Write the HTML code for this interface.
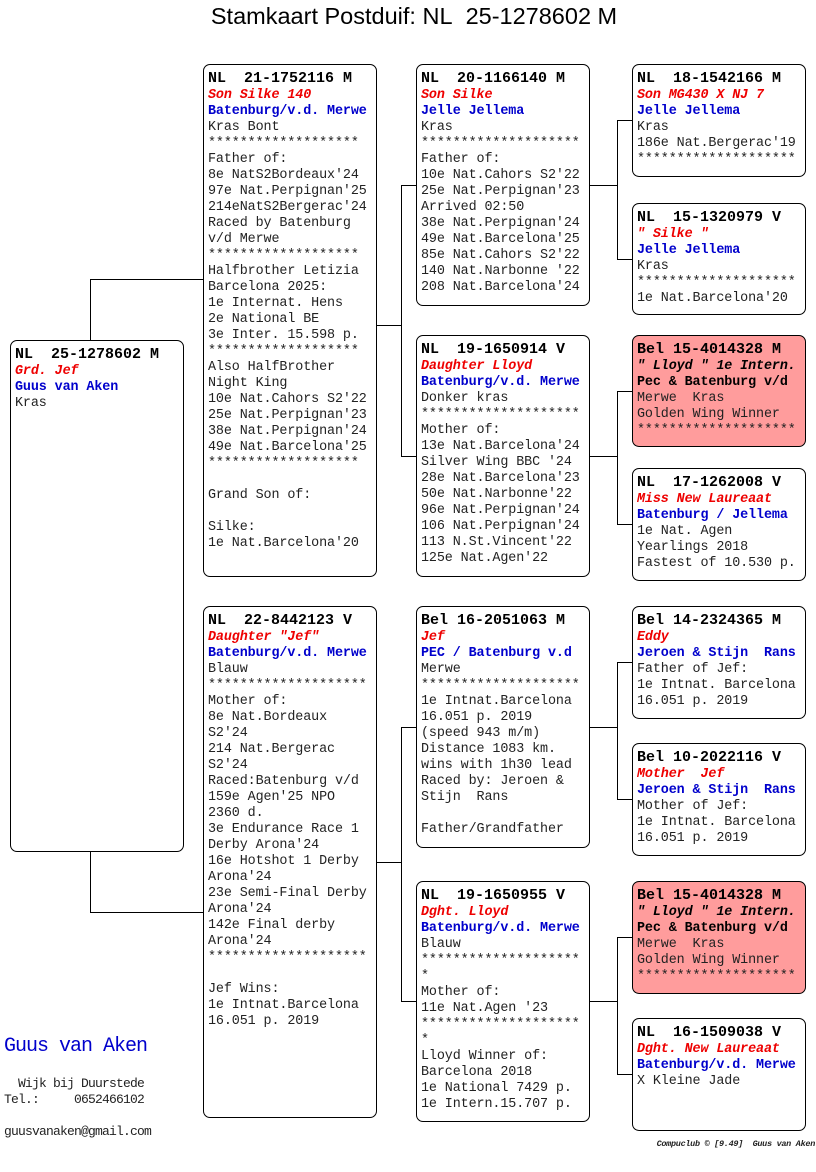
<!DOCTYPE html>
<html><head><meta charset="utf-8"><style>
body{margin:0;width:816px;height:1172px;background:#fff;position:relative;font-family:"Liberation Mono",monospace;overflow:hidden}
.b{position:absolute;border:1px solid #000;border-radius:7px;background:#fff;box-sizing:border-box;padding:6px 0 0 4px;font-size:13.4px;line-height:16px;white-space:pre;color:#222;letter-spacing:-0.1px}
.red{background:#ff9c9c}
.h{font-weight:bold;color:#000;font-size:15px;letter-spacing:0}
.r{color:#e00;font-style:italic;font-weight:bold}
.u{color:#00c;font-weight:bold}
.k{color:#000;font-weight:bold}
.ki{color:#000;font-weight:bold;font-style:italic}
.l{position:absolute;background:#000}
</style></head><body>
<div style="position:absolute;left:0;width:828px;top:3px;text-align:center;font-family:'Liberation Sans',sans-serif;font-size:23.5px">Stamkaart Postduif: NL&nbsp; 25-1278602 M</div>

<div class="l" style="left:90px;top:279px;width:1px;height:61px"></div>
<div class="l" style="left:90px;top:279px;width:113px;height:1px"></div>
<div class="l" style="left:90px;top:851px;width:1px;height:61px"></div>
<div class="l" style="left:90px;top:912px;width:113px;height:1px"></div>

<div class="l" style="left:376px;top:325px;width:26px;height:1px"></div>
<div class="l" style="left:401px;top:185px;width:1px;height:272px"></div>
<div class="l" style="left:401px;top:185px;width:15px;height:1px"></div>
<div class="l" style="left:401px;top:456px;width:15px;height:1px"></div>

<div class="l" style="left:376px;top:862px;width:26px;height:1px"></div>
<div class="l" style="left:401px;top:727px;width:1px;height:275px"></div>
<div class="l" style="left:401px;top:727px;width:15px;height:1px"></div>
<div class="l" style="left:401px;top:1001px;width:15px;height:1px"></div>

<div class="l" style="left:589px;top:185px;width:28px;height:1px"></div>
<div class="l" style="left:617px;top:120px;width:1px;height:140px"></div>
<div class="l" style="left:617px;top:120px;width:15px;height:1px"></div>
<div class="l" style="left:617px;top:259px;width:15px;height:1px"></div>

<div class="l" style="left:589px;top:456px;width:28px;height:1px"></div>
<div class="l" style="left:617px;top:391px;width:1px;height:134px"></div>
<div class="l" style="left:617px;top:391px;width:15px;height:1px"></div>
<div class="l" style="left:617px;top:524px;width:15px;height:1px"></div>

<div class="l" style="left:589px;top:727px;width:28px;height:1px"></div>
<div class="l" style="left:617px;top:662px;width:1px;height:138px"></div>
<div class="l" style="left:617px;top:662px;width:15px;height:1px"></div>
<div class="l" style="left:617px;top:799px;width:15px;height:1px"></div>

<div class="l" style="left:589px;top:1001px;width:28px;height:1px"></div>
<div class="l" style="left:617px;top:937px;width:1px;height:138px"></div>
<div class="l" style="left:617px;top:937px;width:15px;height:1px"></div>
<div class="l" style="left:617px;top:1074px;width:15px;height:1px"></div>

<div class="b" style="left:10px;top:340px;width:174px;height:512px"><span class="h">NL  25-1278602 M</span>
<span class="r">Grd. Jef</span>
<span class="u">Guus van Aken</span>
Kras</div>

<div class="b" style="left:203px;top:64px;width:174px;height:513px"><span class="h">NL  21-1752116 M</span>
<span class="r">Son Silke 140</span>
<span class="u">Batenburg/v.d. Merwe</span>
Kras Bont
*******************
Father of:
8e NatS2Bordeaux'24
97e Nat.Perpignan'25
214eNatS2Bergerac'24
Raced by Batenburg
v/d Merwe
*******************
Halfbrother Letizia
Barcelona 2025:
1e Internat. Hens
2e National BE
3e Inter. 15.598 p.
*******************
Also HalfBrother
Night King
10e Nat.Cahors S2'22
25e Nat.Perpignan'23
38e Nat.Perpignan'24
49e Nat.Barcelona'25
*******************

Grand Son of:

Silke:
1e Nat.Barcelona'20</div>

<div class="b" style="left:203px;top:606px;width:174px;height:512px"><span class="h">NL  22-8442123 V</span>
<span class="r">Daughter "Jef"</span>
<span class="u">Batenburg/v.d. Merwe</span>
Blauw
********************
Mother of:
8e Nat.Bordeaux
S2'24
214 Nat.Bergerac
S2'24
Raced:Batenburg v/d
159e Agen'25 NPO
2360 d.
3e Endurance Race 1
Derby Arona'24
16e Hotshot 1 Derby
Arona'24
23e Semi-Final Derby
Arona'24
142e Final derby
Arona'24
********************

Jef Wins:
1e Intnat.Barcelona
16.051 p. 2019</div>

<div class="b" style="left:416px;top:64px;width:174px;height:242px"><span class="h">NL  20-1166140 M</span>
<span class="r">Son Silke</span>
<span class="u">Jelle Jellema</span>
Kras
********************
Father of:
10e Nat.Cahors S2'22
25e Nat.Perpignan'23
Arrived 02:50
38e Nat.Perpignan'24
49e Nat.Barcelona'25
85e Nat.Cahors S2'22
140 Nat.Narbonne '22
208 Nat.Barcelona'24</div>

<div class="b" style="left:416px;top:335px;width:174px;height:242px"><span class="h">NL  19-1650914 V</span>
<span class="r">Daughter Lloyd</span>
<span class="u">Batenburg/v.d. Merwe</span>
Donker kras
********************
Mother of:
13e Nat.Barcelona'24
Silver Wing BBC '24
28e Nat.Barcelona'23
50e Nat.Narbonne'22
96e Nat.Perpignan'24
106 Nat.Perpignan'24
113 N.St.Vincent'22
125e Nat.Agen'22</div>

<div class="b" style="left:416px;top:606px;width:174px;height:242px"><span class="h">Bel 16-2051063 M</span>
<span class="r">Jef</span>
<span class="u">PEC / Batenburg v.d</span>
Merwe
********************
1e Intnat.Barcelona
16.051 p. 2019
(speed 943 m/m)
Distance 1083 km.
wins with 1h30 lead
Raced by: Jeroen &amp;
Stijn  Rans

Father/Grandfather</div>

<div class="b" style="left:416px;top:881px;width:174px;height:241px"><span class="h">NL  19-1650955 V</span>
<span class="r">Dght. Lloyd</span>
<span class="u">Batenburg/v.d. Merwe</span>
Blauw
********************
*
Mother of:
11e Nat.Agen '23
********************
*
Lloyd Winner of:
Barcelona 2018
1e National 7429 p.
1e Intern.15.707 p.</div>

<div class="b" style="left:632px;top:64px;width:174px;height:113px"><span class="h">NL  18-1542166 M</span>
<span class="r">Son MG430 X NJ 7</span>
<span class="u">Jelle Jellema</span>
Kras
186e Nat.Bergerac'19
********************</div>

<div class="b" style="left:632px;top:203px;width:174px;height:112px"><span class="h">NL  15-1320979 V</span>
<span class="r">" Silke "</span>
<span class="u">Jelle Jellema</span>
Kras
********************
1e Nat.Barcelona'20</div>

<div class="b red" style="left:632px;top:335px;width:174px;height:112px"><span class="h">Bel 15-4014328 M</span>
<span class="ki">" Lloyd " 1e Intern.</span>
<span class="k">Pec &amp; Batenburg v/d</span>
Merwe  Kras
Golden Wing Winner
********************</div>

<div class="b" style="left:632px;top:468px;width:174px;height:113px"><span class="h">NL  17-1262008 V</span>
<span class="r">Miss New Laureaat</span>
<span class="u">Batenburg / Jellema</span>
1e Nat. Agen
Yearlings 2018
Fastest of 10.530 p.</div>

<div class="b" style="left:632px;top:606px;width:174px;height:113px"><span class="h">Bel 14-2324365 M</span>
<span class="r">Eddy</span>
<span class="u">Jeroen &amp; Stijn  Rans</span>
Father of Jef:
1e Intnat. Barcelona
16.051 p. 2019</div>

<div class="b" style="left:632px;top:743px;width:174px;height:113px"><span class="h">Bel 10-2022116 V</span>
<span class="r">Mother  Jef</span>
<span class="u">Jeroen &amp; Stijn  Rans</span>
Mother of Jef:
1e Intnat. Barcelona
16.051 p. 2019</div>

<div class="b red" style="left:632px;top:881px;width:174px;height:113px"><span class="h">Bel 15-4014328 M</span>
<span class="ki">" Lloyd " 1e Intern.</span>
<span class="k">Pec &amp; Batenburg v/d</span>
Merwe  Kras
Golden Wing Winner
********************</div>

<div class="b" style="left:632px;top:1018px;width:174px;height:113px"><span class="h">NL  16-1509038 V</span>
<span class="r">Dght. New Laureaat</span>
<span class="u">Batenburg/v.d. Merwe</span>
X Kleine Jade</div>

<div style="position:absolute;left:4px;top:1035px;font-size:20px;color:#00c;font-family:'Liberation Mono',monospace;letter-spacing:-1px">Guus van Aken</div>
<div style="position:absolute;left:4px;top:1076px;font-size:13px;line-height:16px;white-space:pre;color:#222;letter-spacing:-0.8px">  Wijk bij Duurstede
Tel.:     0652466102

guusvanaken@gmail.com</div>
<div style="position:absolute;right:1px;top:1139px;font-size:8.5px;font-family:'Liberation Mono',monospace;font-style:italic;font-weight:bold;color:#222;white-space:pre;letter-spacing:-0.3px">Compuclub © [9.49]  Guus van Aken</div>
</body></html>
